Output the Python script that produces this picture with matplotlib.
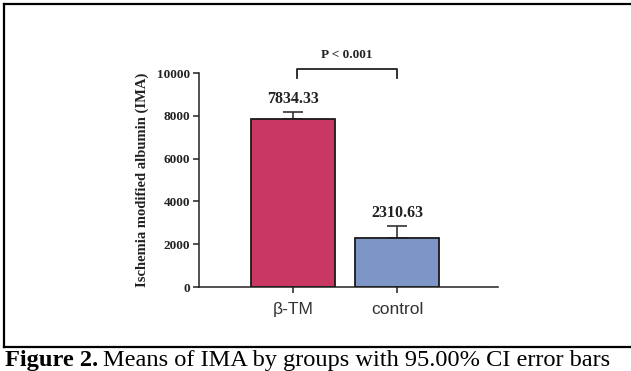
import matplotlib
matplotlib.use('Agg')
import matplotlib.pyplot as plt
from matplotlib.lines import Line2D

# values
groups = ['β-TM', 'control']
means = [7834.33, 2310.63]
ci_upper = [8190, 2864]
mean_labels = ['7834.33', '2310.63']
y_ticks = [0, 2000, 4000, 6000, 8000, 10000]
p_text = 'P < 0.001'
y_label = 'Ischemia modified albumin (IMA)'

bar_colors = ['#C93862', '#7D95C7']
serif = ['Liberation Serif', 'DejaVu Serif']

W, H = 631, 371
fig = plt.figure(figsize=(W / 100, H / 100), dpi=100)

def fx(px):
    return px / W

def fy(py):
    return 1 - py / H

ax = fig.add_axes([fx(199), fy(287), fx(498) - fx(199), fy(73) - fy(287)])

x = range(len(groups))
err_up = [u - m for u, m in zip(ci_upper, means)]
ax.bar(x, means, width=0.81, color=bar_colors, edgecolor='#1a1a1a', linewidth=1.3, zorder=2)
ax.errorbar(x, means, yerr=[[0, 0], err_up], fmt='none', ecolor='#333333',
            elinewidth=1.2, capsize=7, capthick=1.2, zorder=1)

for xi, top, lab in zip(x, ci_upper, mean_labels):
    ax.annotate(lab, (xi, top), xytext=(0, 9), textcoords='offset points',
                ha='center', va='center', fontsize=11.5, fontweight='bold',
                family=serif, color='#222222')

# significance bracket
ax.plot([0.04, 0.04, 1.0, 1.0], [9766, 10187, 10187, 9766], color='#222222',
        lw=1.3, clip_on=False)
ax.text(0.52, 10841, p_text, ha='center', va='center', fontsize=9.5,
        fontweight='bold', family=serif, color='#222222', clip_on=False)

ax.set_xlim(-0.904, 1.971)
ax.set_ylim(0, 10000)
ax.set_yticks(y_ticks)
ax.set_yticklabels([str(t) for t in y_ticks], fontsize=9.5, fontweight='bold',
                   family=serif, color='#222222')
ax.set_xticks(list(x))
ax.set_xticklabels(groups, fontsize=12.5, family=['Liberation Sans', 'DejaVu Sans'],
                   color='#333333')
ax.tick_params(axis='both', direction='out', length=4.5, width=1.1, color='#222222')
ax.tick_params(axis='y', pad=2)
ax.tick_params(axis='x', pad=6)
ax.set_ylabel(y_label, fontsize=10.5, fontweight='bold', family=serif,
              color='#222222', labelpad=6)
for side in ['top', 'right']:
    ax.spines[side].set_visible(False)
for side in ['left', 'bottom']:
    ax.spines[side].set_linewidth(1.1)
    ax.spines[side].set_color('#222222')

# document frame around the figure
frame_kw = dict(color='black', lw=1.6, transform=fig.transFigure)
fig.add_artist(Line2D([fx(4), fx(640)], [fy(4), fy(4)], **frame_kw))
fig.add_artist(Line2D([fx(4), fx(4)], [fy(4), fy(347)], **frame_kw))
fig.add_artist(Line2D([fx(4), fx(640)], [fy(347), fy(347)], **frame_kw))

# caption
cap1 = fig.text(fx(5), fy(366), 'Figure 2.', fontsize=17.6, fontweight='bold',
                family=serif, va='baseline')
fig.canvas.draw()
bb = cap1.get_window_extent()
fig.text(bb.x1 / W + fx(5), fy(366), 'Means of IMA by groups with 95.00% CI error bars',
         fontsize=17.6, family=serif, va='baseline')

fig.savefig('out.png', dpi=100)
